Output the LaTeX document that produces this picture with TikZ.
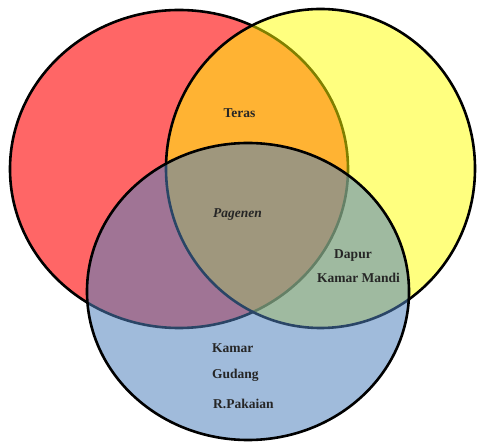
\documentclass[tikz,border=0pt]{standalone}
\usepackage{fontspec}
\setmainfont{Liberation Serif}
\definecolor{setred}{RGB}{255,0,0}
\definecolor{setyellow}{RGB}{255,255,0}
\definecolor{setblue}{RGB}{79,129,189}
\tikzset{
  setline/.style={draw=black, line width=2.6pt},
  lbl/.style={font=\fontsize{13.5}{16}\selectfont\bfseries, inner sep=0pt, text=black!85},
}
\begin{document}
\begin{tikzpicture}[x=1pt, y=-1pt]
  \useasboundingbox (0,0) rectangle (477,446);
  % each set: translucent fill, then its outline, so later sets tint earlier outlines
  \fill[setred, fill opacity=0.6] (179,169) ellipse [x radius=169pt, y radius=159pt];
  \draw[setline] (179,169) ellipse [x radius=169pt, y radius=159pt];
  \fill[setyellow, fill opacity=0.5] (320.5,168.5) ellipse [x radius=154.5pt, y radius=159.5pt];
  \draw[setline] (320.5,168.5) ellipse [x radius=154.5pt, y radius=159.5pt];
  \fill[setblue, fill opacity=0.54] (248,291.5) ellipse [x radius=161pt, y radius=148.5pt];
  \draw[setline] (248,291.5) ellipse [x radius=161pt, y radius=148.5pt];
  % labels
  \node[lbl] (teras) at (239.5,113) {Teras};
  \node[lbl, font=\fontsize{13.5}{16}\selectfont\bfseries\itshape] (pagenen) at (237.5,215) {Pagenen};
  \node[lbl] (dapur) at (353,256) {Dapur};
  \node[lbl] (mandi) at (358.5,278) {Kamar Mandi};
  \node[lbl, anchor=west] (kamar) at (212,348) {Kamar};
  \node[lbl, anchor=west] (gudang) at (212,375) {Gudang};
  \node[lbl, anchor=west] (pakaian) at (213,404) {R.Pakaian};
\end{tikzpicture}
\end{document}
